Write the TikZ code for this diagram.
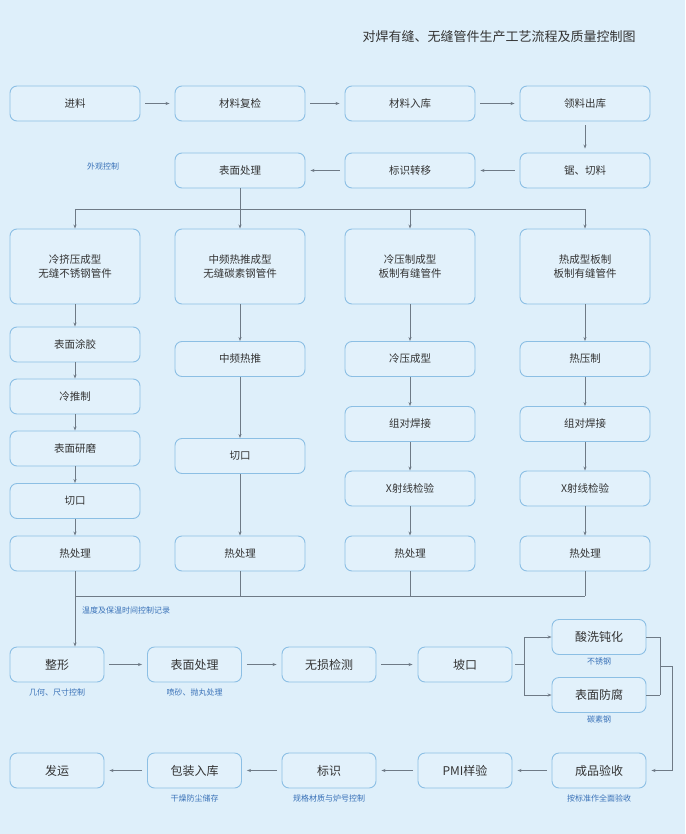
\documentclass[tikz,border=0pt]{standalone}
\usepackage{fontspec}
\setmainfont{Noto Sans CJK SC}
\usetikzlibrary{arrows.meta}
\definecolor{bg}{HTML}{DEEFFA}
\definecolor{boxfill}{HTML}{E2F1FB}
\definecolor{boxline}{HTML}{8CBFE4}
\definecolor{txt}{HTML}{333333}
\definecolor{lbl}{HTML}{3A72B8}
\definecolor{conn}{HTML}{6E7A86}
\tikzset{
  box/.style={draw=boxline, fill=boxfill, line width=0.9pt, rounded corners=7pt,
    minimum width=130pt, minimum height=35pt, inner sep=0pt, text=txt,
    font=\fontsize{10.5}{14}\selectfont, align=center},
  bigbox/.style={box, minimum height=75pt},
  sbox/.style={box, minimum width=94pt, font=\fontsize{12}{14}\selectfont},
  lab/.style={text=lbl, font=\fontsize{8}{9}\selectfont, inner sep=0pt},
  conline/.style={draw=conn, line width=0.7pt},
  arr/.style={conline, -{Stealth[length=4pt,width=3pt]}},
  harr/.style={arr, shorten >=5pt, shorten <=5pt},
}
\begin{document}
\begin{tikzpicture}[x=1pt,y=-1pt]
\fill[bg] (0,0) rectangle (685,834);
\useasboundingbox (0,0) rectangle (685,834);

\node[text=txt, font=\fontsize{13}{15}\selectfont, inner sep=0pt] (title) at (499,37) {对焊有缝、无缝管件生产工艺流程及质量控制图};

% row 1
\node[box] (jl) at (75,103.5) {进料};
\node[box] (fj) at (240,103.5) {材料复检};
\node[box] (rk) at (410,103.5) {材料入库};
\node[box] (ll) at (585,103.5) {领料出库};
% row 2
\node[box] (bm) at (240,170.5) {表面处理};
\node[box] (bs) at (410,170.5) {标识转移};
\node[box] (jq) at (585,170.5) {锯、切料};
\node[lab] (wg) at (103,166) {外观控制};

\draw[harr] (jl) -- (fj);
\draw[harr] (fj) -- (rk);
\draw[harr] (rk) -- (ll);
\draw[arr, shorten >=4pt, shorten <=4pt] (ll) -- (jq);
\draw[harr] (jq) -- (bs);
\draw[harr] (bs) -- (bm);

% row 3
\node[bigbox] (c1) at (75,266.5) {冷挤压成型\\无缝不锈钢管件};
\node[bigbox] (c2) at (240,266.5) {中频热推成型\\无缝碳素钢管件};
\node[bigbox] (c3) at (410,266.5) {冷压制成型\\板制有缝管件};
\node[bigbox] (c4) at (585,266.5) {热成型板制\\板制有缝管件};

\coordinate (sp) at (240,209);
\draw[conline] (bm.south) -- (sp);
\draw[conline] (c1.north |- sp) -- (c4.north |- sp);
\foreach \c in {c1,c2,c3,c4} \draw[arr] (\c.north |- sp) -- (\c.north);

% column 1
\node[box] (a1) at (75,344.5) {表面涂胶};
\node[box] (a2) at (75,396.5) {冷推制};
\node[box] (a3) at (75,448.5) {表面研磨};
\node[box] (a4) at (75,501) {切口};
\node[box] (a5) at (75,553.5) {热处理};
% column 2
\node[box] (b1) at (240,359) {中频热推};
\node[box] (b2) at (240,456) {切口};
\node[box] (b3) at (240,553.5) {热处理};
% column 3
\node[box] (d1) at (410,359) {冷压成型};
\node[box] (d2) at (410,424) {组对焊接};
\node[box] (d3) at (410,488.5) {X射线检验};
\node[box] (d4) at (410,553.5) {热处理};
% column 4
\node[box] (e1) at (585,359) {热压制};
\node[box] (e2) at (585,424) {组对焊接};
\node[box] (e3) at (585,488.5) {X射线检验};
\node[box] (e4) at (585,553.5) {热处理};

\draw[arr] (c1) -- (a1);
\draw[arr] (a1) -- (a2);
\draw[arr] (a2) -- (a3);
\draw[arr] (a3) -- (a4);
\draw[arr] (a4) -- (a5);
\draw[arr] (c2) -- (b1);
\draw[arr] (b1) -- (b2);
\draw[arr] (b2) -- (b3);
\draw[arr] (c3) -- (d1);
\draw[arr] (d1) -- (d2);
\draw[arr] (d2) -- (d3);
\draw[arr] (d3) -- (d4);
\draw[arr] (c4) -- (e1);
\draw[arr] (e1) -- (e2);
\draw[arr] (e2) -- (e3);
\draw[arr] (e3) -- (e4);

% row 5
\node[sbox] (zx) at (57,664.5) {整形};
\node[sbox] (bm2) at (194.5,664.5) {表面处理};
\node[sbox] (ws) at (329,664.5) {无损检测};
\node[sbox] (pk) at (465,664.5) {坡口};
\node[sbox] (sx) at (599,637) {酸洗钝化};
\node[sbox] (fm) at (599,695) {表面防腐};

% merge of heat treatments
\coordinate (mg) at (75,596);
\draw[conline] (b3.south) -- (b3.south |- mg);
\draw[conline] (d4.south) -- (d4.south |- mg);
\draw[conline] (e4.south) -- (e4.south |- mg);
\draw[conline] (mg) -- (e4.south |- mg);
\draw[arr] (a5.south) -- (a5.south |- zx.north);
\node[lab, anchor=west] (wd) at (82,610) {温度及保温时间控制记录};

\draw[harr] (zx) -- (bm2);
\draw[harr] (bm2) -- (ws);
\draw[harr] (ws) -- (pk);

% split after bevel
\coordinate (pks) at (524,664.5);
\draw[conline, shorten <=3pt] (pk.east) -- (pks);
\draw[conline] (pks |- sx) -- (pks |- fm);
\draw[arr] (pks |- sx) -- (sx.west);
\draw[arr] (pks |- fm) -- (fm.west);

% row 6
\node[sbox] (fy) at (57,770.5) {发运};
\node[sbox] (bz) at (194.5,770.5) {包装入库};
\node[sbox] (bsh) at (329,770.5) {标识};
\node[sbox] (pmi) at (465,770.5) {PMI样验};
\node[sbox] (cp) at (599,770.5) {成品验收};

% right merge
\coordinate (rm) at (660,666);
\coordinate (rr) at (672,666);
\draw[conline] (sx.east) -- (rm |- sx);
\draw[conline] (fm.east) -- (rm |- fm);
\draw[conline] (rm |- sx) -- (rm |- fm);
\draw[conline] (rm) -- (rr);
\draw[arr, shorten >=5pt] (rr) -- (rr |- cp) -- (cp.east);

\draw[harr] (cp) -- (pmi);
\draw[harr] (pmi) -- (bsh);
\draw[harr] (bsh) -- (bz);
\draw[harr] (bz) -- (fy);

% labels
\node[lab] (l1) at (57,692) {几何、尺寸控制};
\node[lab] (l2) at (194.5,692) {喷砂、抛丸处理};
\node[lab] (l3) at (599,661) {不锈钢};
\node[lab] (l4) at (599,719) {碳素钢};
\node[lab] (l5) at (194.5,798) {干燥防尘储存};
\node[lab] (l6) at (329,798) {规格材质与炉号控制};
\node[lab] (l7) at (599,798) {按标准作全面验收};
\end{tikzpicture}
\end{document}
